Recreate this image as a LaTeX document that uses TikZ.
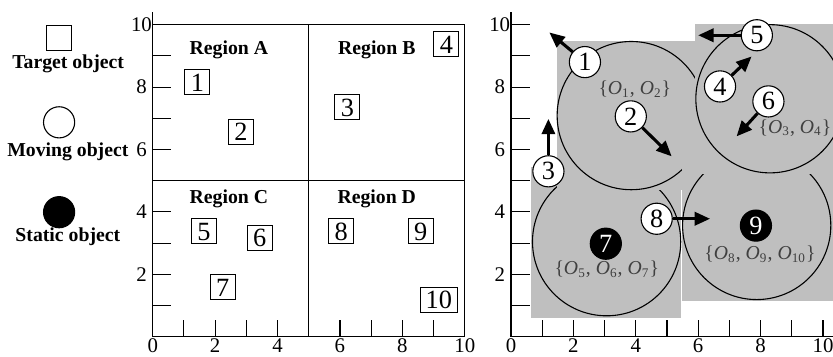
\documentclass[tikz,border=0pt]{standalone}
\usepackage{fontspec}
\setmainfont{Liberation Serif}
\usetikzlibrary{arrows.meta}
\definecolor{boxgray}{gray}{.75}
\newcommand\obj[1]{\textit{O}\textsubscript{#1}}
\tikzset{
 tgt/.style={draw,inner xsep=2.5pt,inner ysep=1.5pt,minimum width=11.4pt,minimum height=11.4pt,text height=8.2pt,text depth=0pt,font=\fontsize{12}{12}\selectfont},
 mov/.style={circle,draw,fill=white,inner sep=0pt,minimum size=14.2pt,font=\fontsize{12}{12}\selectfont},
 sta/.style={mov,fill=black,text=white},
 mv/.style={-{Triangle[length=7pt,width=6pt]},line width=1.4pt},
 grp/.style={text=black!75,font=\fontsize{9}{9}\selectfont},
 reg/.style={font=\fontsize{9}{9}\selectfont\bfseries},
 ax/.style={font=\fontsize{9.5}{9.5}\selectfont}
}
\begin{document}
\begin{tikzpicture}[x=.5cm,y=.5cm,line width=.5pt]
\useasboundingbox(-4.894,-.65)rectangle(21.8,10.79);
\node[tgt](lt)at(-3,9.58){};\node[reg](ltl)at(-2.71,8.76){Target object};
\node[mov](lm)at(-3,6.87){};\node[reg](lml)at(-2.72,5.93){Moving object};
\node[sta](ls)at(-3,3.99){};\node[reg](lsl)at(-2.72,3.19){Static object};
\begin{scope}[shift={(11.48,0)}]
\fill[boxgray](.64,.6)rectangle(5.44,5.45);\draw(3.065,3.045)circle(2.375);
\fill[boxgray](1.46,4.69)rectangle(6.25,9.47);\draw(3.855,7.085)circle(2.375);
\fill[boxgray](5.47,1.13)rectangle(10.4,5.96);\draw(7.875,3.565)circle(2.375);
\fill[boxgray](5.9,5.22)rectangle(10.7,10.02);\draw(8.3,7.625)circle(2.375);
\end{scope}
\foreach \s/\e in {0/10,11.48/10.5}{\draw[line width=.6pt](\s,10.4)--(\s,0)--(\s+\e,0);
\foreach \i in {1,...,10}{\draw(\s,\i)--++(.6,0);\draw(\s+\i,0)--++(0,.55);}
\foreach \i in {0,2,...,10}{\node[ax](xl\i)at(\s+\i,-.3){\i};}
\foreach \i in {2,4,...,10}{\node[ax](yl\i)at(\s-.36,\i){\i};}}
\draw(0,10)--(10,10)--(10,0);\draw(5,0)--(5,10);\draw(0,5)--(10,5);
\node[reg](ra)at(2.44,9.19){Region A};\node[reg](rb)at(7.18,9.19){Region B};
\node[reg](rc)at(2.44,4.41){Region C};\node[reg](rd)at(7.18,4.41){Region D};
\foreach \n/\x/\y in {1/1.43/8.16,2/2.83/6.57,3/6.24/7.36,4/9.41/9.37,5/1.64/3.38,6/3.43/3.17,7/2.24/1.58,8/6.04/3.38,9/8.59/3.38,10/9.17/1.18}{\node[tgt](o\n)at(\x,\y){\n};}
\begin{scope}[shift={(11.48,0)}]
\foreach \n/\x/\y/\u/\v in {1/2.37/8.8/1.23/9.75,2/3.84/7.06/5.15/5.78,3/1.2/5.3/1.2/6.98,4/6.7/8.02/7.71/8.98,5/7.88/9.66/6/9.66,6/8.25/7.54/7.23/6.42,8/4.67/3.78/6.38/3.78}{
\node[mov](m\n)at(\x,\y){\n};\coordinate(t\n)at(\u,\v);\draw[mv](m\n)--(t\n);}
\node[sta](m7)at(3.04,2.98){7};\node[sta](m9)at(7.85,3.56){9};
\node[grp](g1)at(3.97,7.92){\{\obj1, \obj2\}};
\node[grp](g2)at(9.1,6.69){\{\obj3, \obj4\}};
\node[grp](g3)at(3.07,2.15){\{\obj5, \obj6, \obj7\}};
\node[grp](g4)at(7.98,2.63){\{\obj8, \obj9, \obj{10}\}};
\end{scope}
\end{tikzpicture}
\end{document}
